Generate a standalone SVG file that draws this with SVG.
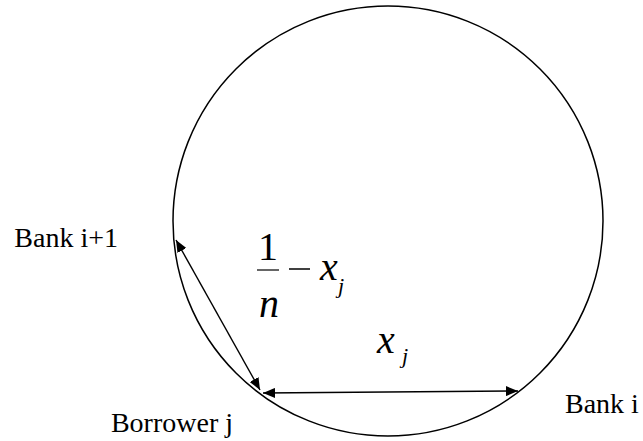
<svg xmlns="http://www.w3.org/2000/svg" width="643" height="441" viewBox="0 0 643 441">
<style>
.t{font-family:"Liberation Serif","Times New Roman",serif;font-size:28px;fill:#000}
.m{font-family:"Liberation Serif","Times New Roman",serif;font-style:italic;fill:#000}
.u{font-family:"Liberation Serif","Times New Roman",serif;fill:#000}
.c{fill:none;stroke:#000;stroke-width:1.5}
.a{fill:none;stroke:#000;stroke-width:1.4;marker-start:url(#ah);marker-end:url(#ah)}
</style>
<defs>
<marker id="ah" viewBox="0 0 12 10" refX="12" refY="5" markerWidth="12" markerHeight="10" markerUnits="userSpaceOnUse" orient="auto-start-reverse"><path d="M0,0 L12,5 L0,10 z" fill="#000"/></marker>
</defs>
<g id="ring"><circle class="c" cx="388" cy="221" r="215"/></g>
<g id="bank-i1"><text class="t" x="118" y="247" text-anchor="end">Bank i+1</text></g>
<g id="bank-i"><text class="t" x="565" y="413">Bank i</text></g>
<g id="borrower-j"><text class="t" x="233" y="432" text-anchor="end">Borrower j</text></g>
<g id="connectors">
<line class="a" x1="176" y1="240" x2="260" y2="390"/>
<line class="a" x1="263" y1="393" x2="518" y2="391"/>
</g>
<g id="labels">
<text class="u" x="268" y="260" font-size="40" text-anchor="middle">1</text>
<line x1="257" y1="270" x2="279" y2="270" stroke="#000" stroke-width="1.2"/>
<text class="m" x="269" y="317" font-size="40" text-anchor="middle">n</text>
<line x1="289" y1="269" x2="310" y2="269" stroke="#000" stroke-width="1.5"/>
<text class="m" x="320" y="280" font-size="40">x</text>
<text class="m" x="338" y="293" font-size="22">j</text>
<text class="m" x="377" y="353" font-size="40">x</text>
<text class="m" x="402" y="363" font-size="22">j</text>
</g>
</svg>
